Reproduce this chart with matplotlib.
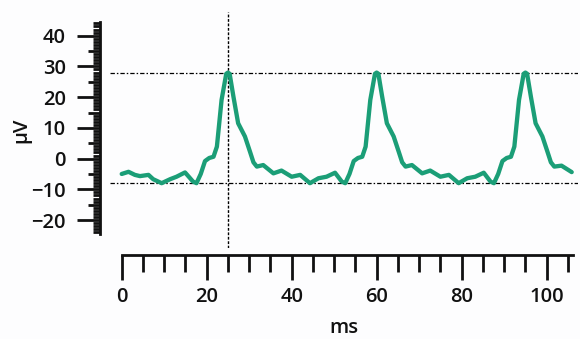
import matplotlib
matplotlib.use('Agg')
import matplotlib.pyplot as plt
from matplotlib.ticker import FixedLocator
import numpy as np

plt.rcParams['font.family'] = ['Open Sans', 'DejaVu Sans']
plt.rcParams['font.weight'] = 'semibold'

# evoked trace, time in ms and amplitude in uV
t_ms = [0.0, 1.6, 3.1, 4.3, 6.3, 7.4, 9.4, 11.4, 12.9, 14.9, 16.8, 17.6,
        18.6, 19.6, 20.6, 21.6, 22.4, 23.5, 24.6, 25.0, 25.4, 26.3, 27.4,
        29.0, 30.2, 31.0, 31.8, 33.3, 35.7, 37.6, 40.0, 42.0, 44.3, 46.3,
        48.2, 50.2, 51.8, 52.6, 53.6, 54.6, 55.6, 56.6, 57.4, 58.5, 59.6,
        60.0, 60.4, 61.3, 62.4, 64.0, 65.2, 66.0, 66.8, 68.3, 70.7, 72.6,
        75.0, 77.0, 79.3, 81.3, 83.2, 85.2, 86.8, 87.6, 88.6, 89.6, 90.6,
        91.6, 92.4, 93.5, 94.6, 95.0, 95.4, 96.3, 97.4, 99.0, 100.2, 101.0,
        101.8, 103.5, 105.9]
uv = [-5.0, -4.3, -5.3, -5.7, -5.3, -6.7, -8.0, -6.7, -5.9, -4.5, -7.5, -8.0,
      -5.0, -0.8, 0.2, 0.6, 3.9, 19.1, 27.6, 28.0, 27.6, 20.1, 11.5,
      7.2, 2.2, -1.2, -2.6, -2.1, -4.8, -3.9, -5.9, -5.3, -8.0, -6.4,
      -5.9, -4.6, -7.5, -8.0, -5.0, -0.8, 0.2, 0.6, 3.9, 19.1, 27.6,
      28.0, 27.6, 20.1, 11.5, 7.2, 2.2, -1.2, -2.6, -2.1, -4.8, -3.9,
      -5.9, -5.3, -8.0, -6.4, -5.9, -4.6, -7.5, -8.0, -5.0, -0.8, 0.2,
      0.6, 3.9, 19.1, 27.6, 28.0, 27.6, 20.1, 11.5, 7.2, 2.2, -1.2,
      -2.6, -2.3, -4.4]

x_major = [0, 20, 40, 60, 80, 100]
x_minor = [5, 10, 15, 25, 30, 35, 45, 50, 55, 65, 70, 75, 85, 90, 95, 105]
y_major = [-20, -10, 0, 10, 20, 30, 40]
y_minor = list(range(-24, 45))

line_col = '#1b9e77'
ink = '#111111'
fs = 14.5

fig = plt.figure(figsize=(5.8, 3.39), dpi=100, facecolor='#fdfdfe')
ax = fig.add_axes([0.1897, 0.2684, 0.807, 0.697])
ax.set_facecolor('#fdfdfe')

ax.plot(t_ms, uv, color=line_col, lw=3.1, solid_joinstyle='round',
        solid_capstyle='round', zorder=3)

# cursor lines at the peak and the trough
peak = int(np.argmax(uv))
dashdot = (0, (3.5, 1.6, 1.2, 1.6))
ax.axhline(max(uv), color='black', lw=0.9, ls=dashdot, zorder=2)
ax.axhline(min(uv), color='black', lw=0.9, ls=dashdot, zorder=2)
ax.axvline(t_ms[peak], color='black', lw=1.0, ls=(0, (2, 1.2)), zorder=2)

ax.set_xlim(-2.75, 107.4)
ax.set_ylim(-29.1, 47.8)

for s in ['top', 'right']:
    ax.spines[s].set_visible(False)
ax.spines['left'].set_position(('outward', 7.2))
ax.spines['bottom'].set_position(('outward', 5))
ax.spines['left'].set_bounds(-24.6, 44.6)
ax.spines['bottom'].set_bounds(0, 106.2)
for s in ['left', 'bottom']:
    ax.spines[s].set_linewidth(2.0)
    ax.spines[s].set_color(ink)

ax.xaxis.set_major_locator(FixedLocator(x_major))
ax.xaxis.set_minor_locator(FixedLocator(x_minor))
ax.yaxis.set_major_locator(FixedLocator(y_major))
ax.yaxis.set_minor_locator(FixedLocator(y_minor))

ax.tick_params(axis='x', which='major', direction='out', length=18, width=2.0,
               color=ink, pad=5, labelsize=fs, labelcolor=ink)
ax.tick_params(axis='x', which='minor', direction='out', length=12, width=2.0,
               color=ink)
ax.tick_params(axis='y', which='major', direction='out', length=16.6, width=2.0,
               color=ink, pad=8, labelsize=fs, labelcolor=ink)
ax.tick_params(axis='y', which='minor', direction='out', length=5, width=2.0,
               color=ink)

# every fifth minor tick on the y axis is drawn longer
locs = ax.yaxis.get_minorticklocs()
for loc, tk in zip(locs, ax.yaxis.get_minor_ticks(len(locs))):
    if loc % 5 == 0:
        tk.tick1line.set_markersize(8.6)

ax.set_xlabel('ms', fontsize=fs, fontweight='semibold', color=ink, labelpad=8)
ax.set_ylabel('μV', fontsize=fs, fontweight='semibold', color=ink, labelpad=0)

fig.savefig('out.png', dpi=100, facecolor=fig.get_facecolor())
